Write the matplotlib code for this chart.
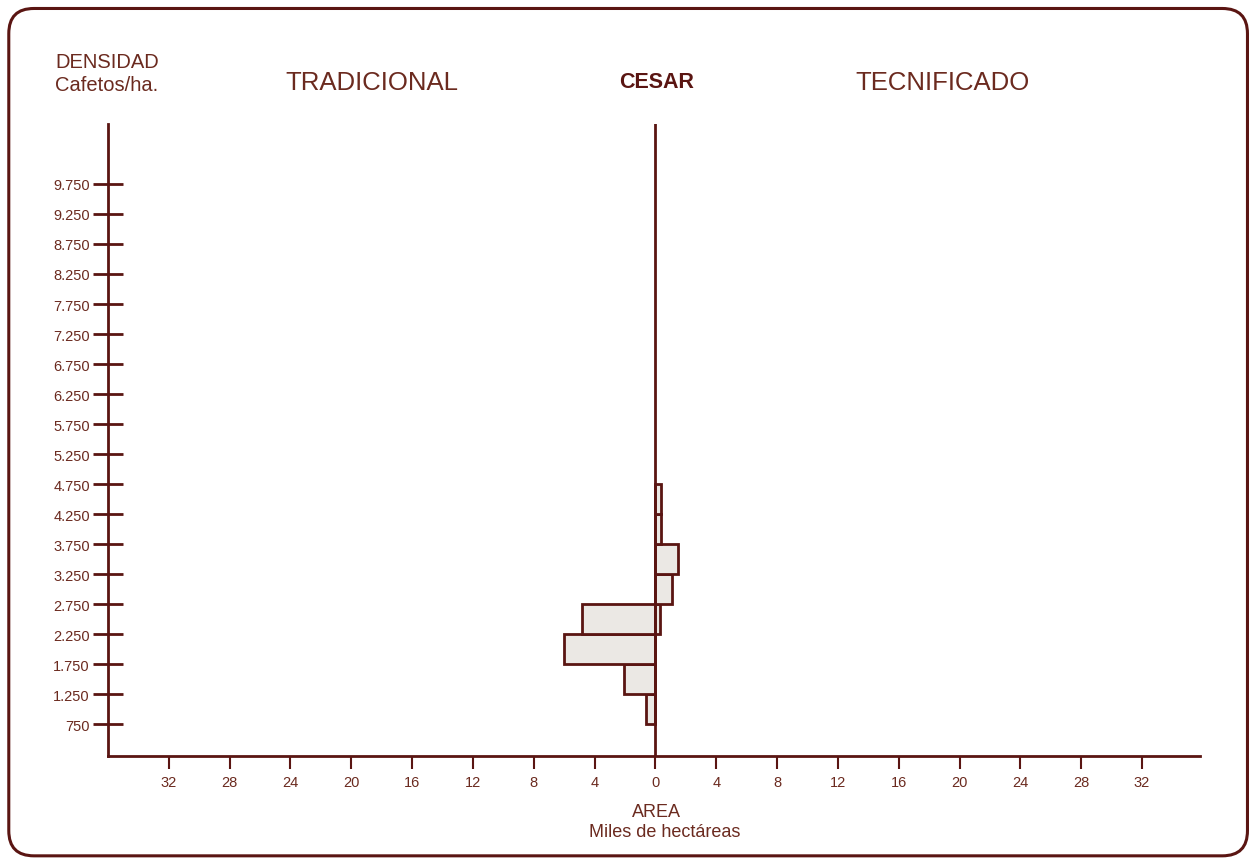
import matplotlib.pyplot as plt
from matplotlib.patches import FancyBboxPatch

plt.rcParams['font.family'] = ['Liberation Sans', 'DejaVu Sans']

# Densidad (cafetos/ha), bins of 500 starting at the lower edge
bin_lower = [750, 1250, 1750, 2250, 2750, 3250, 3750, 4250]
tradicional = [0.6, 2.05, 6.0, 4.85, 0, 0, 0, 0]      # miles de ha
tecnificado = [0, 0, 0, 0.3, 1.1, 1.5, 0.4, 0.35]    # miles de ha

y_ticks = [750, 1250, 1750, 2250, 2750, 3250, 3750, 4250, 4750, 5250,
           5750, 6250, 6750, 7250, 7750, 8250, 8750, 9250, 9750]
y_labels = ['750', '1.250', '1.750', '2.250', '2.750', '3.250', '3.750',
            '4.250', '4.750', '5.250', '5.750', '6.250', '6.750', '7.250',
            '7.750', '8.250', '8.750', '9.250', '9.750']
x_ticks = [-32, -28, -24, -20, -16, -12, -8, -4, 0, 4, 8, 12, 16, 20, 24, 28, 32]
x_labels = [str(abs(v)) for v in x_ticks]

line_c = '#5a1512'
text_c = '#6b2a1f'
fill_c = '#ebe8e4'

fig = plt.figure(figsize=(12.55, 8.62), dpi=100)
fig.patch.set_facecolor('white')

# rounded frame
frame = FancyBboxPatch((0.007, 0.006), 0.987, 0.983,
                       boxstyle='round,pad=0,rounding_size=0.02',
                       transform=fig.transFigure, fill=False,
                       edgecolor=line_c, linewidth=2.2, mutation_aspect=1255 / 862)
fig.patches.append(frame)

ax = fig.add_axes([0.086, 0.1218, 0.87, 0.7332])
ax.set_xlim(-36, 35.8)
ax.set_ylim(217, 10750)

ax.barh(bin_lower, [-v for v in tradicional], height=500, align='edge',
        color=fill_c, edgecolor=line_c, linewidth=2)
ax.barh(bin_lower, tecnificado, height=500, align='edge',
        color=fill_c, edgecolor=line_c, linewidth=2)
ax.axvline(0, color=line_c, linewidth=2)

for s in ['top', 'right']:
    ax.spines[s].set_visible(False)
for s in ['left', 'bottom']:
    ax.spines[s].set_color(line_c)
    ax.spines[s].set_linewidth(2)

ax.set_yticks(y_ticks)
ax.set_yticklabels(y_labels)
ax.set_xticks(x_ticks)
ax.set_xticklabels(x_labels)
ax.tick_params(axis='y', direction='inout', length=22, width=2, color=line_c,
               labelcolor=text_c, labelsize=10.5, pad=2)
ax.tick_params(axis='x', direction='out', length=9, width=1.5, color=line_c,
               labelcolor=text_c, labelsize=10.5, pad=5)

fig.text(0.044, 0.927, 'DENSIDAD', color=text_c, fontsize=14.5, va='center')
fig.text(0.044, 0.901, 'Cafetos/ha.', color=text_c, fontsize=14.5, va='center')
fig.text(0.296, 0.904, 'TRADICIONAL', color=text_c, fontsize=18.5, va='center', ha='center')
fig.text(0.523, 0.904, 'CESAR', color=line_c, fontsize=15.5, fontweight='bold',
         va='center', ha='center')
fig.text(0.751, 0.904, 'TECNIFICADO', color=text_c, fontsize=18.5, va='center', ha='center')
fig.text(0.523, 0.058, 'AREA', color=text_c, fontsize=13, va='center', ha='center')
fig.text(0.530, 0.034, 'Miles de hectáreas', color=text_c, fontsize=13,
         va='center', ha='center')

fig.savefig('out.png', dpi=100)
